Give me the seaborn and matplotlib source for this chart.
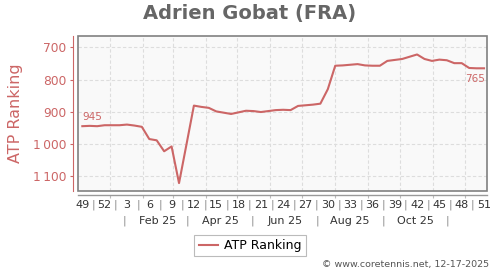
import matplotlib
matplotlib.use("Agg")
import matplotlib.pyplot as plt
import matplotlib.transforms as mtrans
from matplotlib.patches import Rectangle
from matplotlib.lines import Line2D
import seaborn as sns
import pandas as pd
from datetime import date

title = "Adrien Gobat (FRA)"
series_name = "ATP Ranking"
week_labels = ["49", "52", "3", "6", "9", "12", "15", "18", "21", "24", "27",
               "30", "33", "36", "39", "42", "45", "48", "51"]
ranks = [945, 944, 945, 942, 942, 942, 940, 943, 947, 985, 989, 1023, 1008, 1122,
         1002, 881, 885, 888, 899, 903, 907, 902, 897, 898, 901, 898, 895, 894,
         895, 882, 880, 878, 875, 830, 757, 756, 754, 752, 756, 757, 757, 742,
         739, 736, 729, 722, 736, 742, 738, 740, 749, 749, 764, 765, 765]
month_labels = ["Feb 25", "Apr 25", "Jun 25", "Aug 25", "Oct 25"]
ytick_values = [700, 800, 900, 1000, 1100]
ytick_labels = ["700", "800", "900", "1\u2009000", "1\u2009100"]

RED = "#cc6666"
GRID = "#dddddd"
W, H = 500, 270

df = pd.DataFrame({"week": range(len(ranks)), "rank": ranks})
origin = date(2024, 12, 6)


def idx(d):
    return (d - origin).days / 7.0


fig = plt.figure(figsize=(5, 2.7), dpi=100)
left, right, top, bottom = 78, 487, 35.5, 190.5
ax = fig.add_axes([left / W, 1 - bottom / H, (right - left) / W, (bottom - top) / H])
ax.set_facecolor("#f9f9f9")

sns.lineplot(data=df, x="week", y="rank", ax=ax, color=RED, lw=1.5, legend=False)

ax.set_xlim(-0.58, 54.4)
ax.set_ylim(1145, 663)

# grid
for v in ytick_values:
    ax.axhline(v, color=GRID, lw=0.8, ls=(0, (3, 2)), zorder=0)
month_starts = [idx(date(2025, m, 1)) for m in range(1, 13)]
for m in month_starts:
    ax.axvline(m, color=GRID, lw=0.8, ls=(0, (3, 2)), zorder=0)

# spines
for s in ["top", "right"]:
    ax.spines[s].set_visible(False)
ax.spines["left"].set_position(("outward", 3.6))
ax.spines["left"].set_color(RED)
ax.spines["left"].set_linewidth(0.8)
ax.spines["bottom"].set_position(("outward", 3.3))
ax.spines["bottom"].set_color("#999999")
ax.spines["bottom"].set_linewidth(1)
ax.add_patch(Rectangle((0, 0), 1, 1, transform=ax.transAxes, fill=False,
                       edgecolor="#808080", lw=1.2, clip_on=False, zorder=5))

ax.set_yticks(ytick_values)
ax.set_yticklabels(ytick_labels)
ax.tick_params(axis="y", colors=RED, labelsize=8.8, length=2.5, width=0.8, pad=2.5)
ax.set_xticks(month_starts)
ax.set_xticklabels([])
ax.tick_params(axis="x", colors="#bbbbbb", length=2, width=0.8)
ax.set_xlabel("")
ax.set_ylabel(series_name, color=RED, fontsize=11.5, labelpad=7)

# x labels rows
tr = mtrans.blended_transform_factory(ax.transData, fig.transFigure)
y1 = 1 - 205 / H
y2 = 1 - 221 / H
tick_idx = list(range(0, len(ranks), 3))
for i, lab in zip(tick_idx, week_labels):
    ax.text(i, y1, lab, transform=tr, ha="center", va="center", fontsize=8,
            color="#333333", clip_on=False)
for i in tick_idx[:-1]:
    ax.text(i + 1.5, y1, "|", transform=tr, ha="center", va="center", fontsize=8,
            color="#888888", clip_on=False)
for m in [1, 3, 5, 7, 9, 11]:
    ax.text(idx(date(2025, m, 15)), y2, "|", transform=tr, ha="center", va="center",
            fontsize=8, color="#888888", clip_on=False)
for m, lab in zip([2, 4, 6, 8, 10], month_labels):
    ax.text(idx(date(2025, m, 15)), y2, lab, transform=tr, ha="center", va="center",
            fontsize=8, color="#333333", clip_on=False)

# annotations
ax.annotate(str(ranks[0]), (0, ranks[0]), xytext=(0, 3), textcoords="offset points",
            ha="left", va="bottom", fontsize=7.5, color=RED)
ax.annotate(str(ranks[-1]), (len(ranks) - 1, ranks[-1]), xytext=(1, -4),
            textcoords="offset points", ha="right", va="top", fontsize=7.5, color=RED)

fig.text(0.5, 1 - 14 / H, title, ha="center", va="center", fontsize=14,
         fontweight="bold", color="#666666")

handle = Line2D([], [], color=RED, lw=1.5)
leg = fig.legend([handle], [series_name], loc="center",
                 bbox_to_anchor=(0.5, 1 - 245.5 / H), fontsize=9, frameon=True,
                 fancybox=False, framealpha=1, edgecolor="#bbbbbb",
                 handlelength=1.5, handletextpad=0.5, borderpad=0.35)
leg.get_frame().set_linewidth(0.8)

fig.text(489 / W, 1 - 264 / H, "\u00a9 www.coretennis.net, 12-17-2025", ha="right",
         va="center", fontsize=6.8, color="#555555")

fig.savefig("out.png", dpi=100, facecolor="white")
